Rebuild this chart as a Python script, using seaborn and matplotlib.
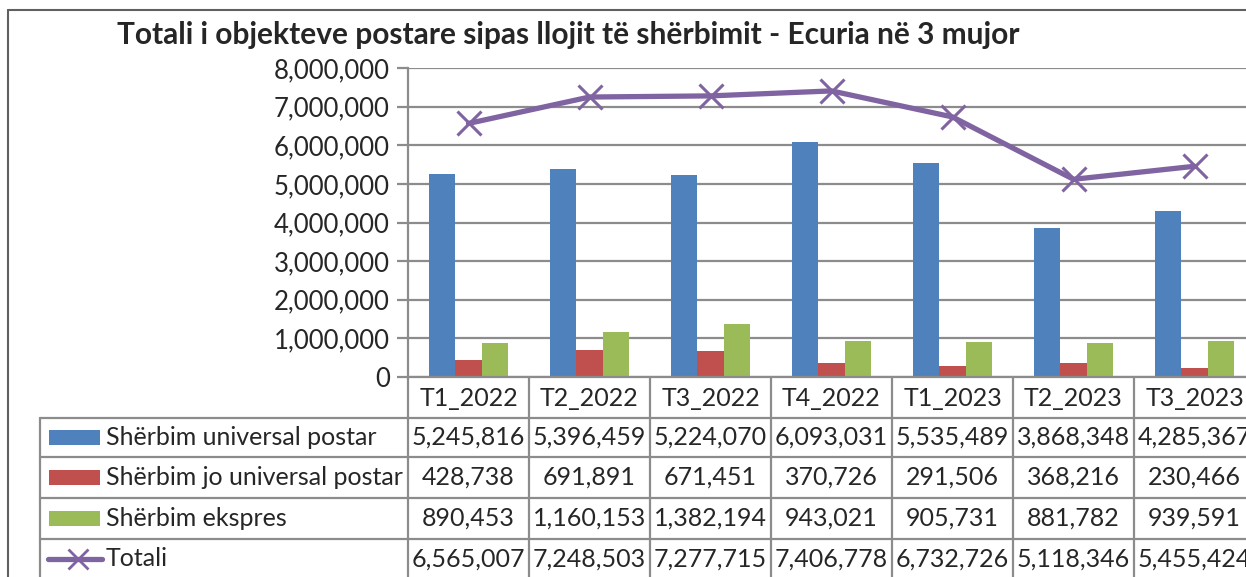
import numpy as np
import pandas as pd
import seaborn as sns
import matplotlib.pyplot as plt
import matplotlib.transforms as mtransforms
from matplotlib.lines import Line2D
from matplotlib.patches import Rectangle

quarters = ["T1_2022", "T2_2022", "T3_2022", "T4_2022", "T1_2023", "T2_2023", "T3_2023"]
universal = [5245816, 5396459, 5224070, 6093031, 5535489, 3868348, 4285367]
jo_universal = [428738, 691891, 671451, 370726, 291506, 368216, 230466]
ekspres = [890453, 1160153, 1382194, 943021, 905731, 881782, 939591]
totali = [6565007, 7248503, 7277715, 7406778, 6732726, 5118346, 5455424]
series_names = ["Shërbim universal postar", "Shërbim jo universal postar", "Shërbim ekspres", "Totali"]
colors = ["#4F81BD", "#C0504D", "#9BBB59", "#8064A2"]

sns.set_style("white")
plt.rcParams["font.family"] = ["Lato", "DejaVu Sans"]
FS = 18
GRID = "#8c8c8c"

df = pd.DataFrame({"period": quarters * 3,
                   "value": universal + jo_universal + ekspres,
                   "series": [series_names[0]] * 7 + [series_names[1]] * 7 + [series_names[2]] * 7})

W, H = 1246, 577
fig = plt.figure(figsize=(W / 100, H / 100), dpi=100)


def fx(x):
    return x / W


def fy(y):
    return 1 - y / H


ax = fig.add_axes([fx(408), fy(377), 7 * 121 / W, (377 - 68) / H])
sns.barplot(data=df, x="period", y="value", hue="series", palette=colors[:3],
            width=0.66, linewidth=0, saturation=1, legend=False, ax=ax)
sns.lineplot(x=np.arange(7), y=totali, color=colors[3], linewidth=3.8, marker="x",
             markersize=17, markeredgewidth=2.2, markeredgecolor=colors[3], ax=ax, zorder=5)
ax.set_xlim(-0.5, 6.5)
ax.set_ylim(0, 8000000)
ax.set_yticks(np.arange(0, 8000001, 1000000))
ax.set_yticklabels([f"{int(v):,}" for v in np.arange(0, 8000001, 1000000)], fontsize=18.5)
ax.set_xticks([])
ax.set_xlabel("")
ax.set_ylabel("")
ax.yaxis.grid(True, color=GRID, linewidth=1.6)
ax.set_axisbelow(True)
for s in ["top", "right"]:
    ax.spines[s].set_visible(False)
for s in ["left", "bottom"]:
    ax.spines[s].set_color(GRID)
    ax.spines[s].set_linewidth(1.6)
ax.tick_params(axis="y", length=8, width=1.6, color=GRID, pad=5, left=True)

fig.text(fx(568), fy(35), "Totali i objekteve postare sipas llojit të shërbimit - Ecuria në 3 mujor",
         ha="center", va="center", fontsize=21.5, fontweight="bold")

# data table under the plot
tr = mtransforms.blended_transform_factory(ax.transData, fig.transFigure)
rows_y = [377, 418, 457, 498, 539, 579]
lw = 1.6
for k in range(8):
    fig.add_artist(Line2D([k - 0.5, k - 0.5], [fy(377), fy(579)], transform=tr,
                          color=GRID, linewidth=lw, clip_on=False))
fig.add_artist(Line2D([fx(40), fx(40)], [fy(418), fy(579)], color=GRID, linewidth=lw))
for y in rows_y[1:5]:
    fig.add_artist(Line2D([fx(40), 1.0], [fy(y), fy(y)], color=GRID, linewidth=lw))

for i, q in enumerate(quarters):
    fig.text(i, fy(398), q, transform=tr, ha="center", va="center", fontsize=FS)

table_rows = [universal, jo_universal, ekspres, totali]
for r, (name, vals) in enumerate(zip(series_names, table_rows)):
    yc = (rows_y[r + 1] + rows_y[r + 2]) / 2
    for i, v in enumerate(vals):
        fig.text(i, fy(yc), f"{v:,}", transform=tr, ha="center", va="center", fontsize=FS)
    fig.text(fx(106), fy(yc), name, ha="left", va="center", fontsize=FS)
    if r < 3:
        fig.add_artist(Rectangle((fx(49), fy(yc + 7.5)), fx(51), 15 / H,
                                 facecolor=colors[r], edgecolor="none"))
    else:
        fig.add_artist(Line2D([fx(48), fx(102)], [fy(yc), fy(yc)], color=colors[3],
                              linewidth=3.8, solid_capstyle="round"))
        fig.add_artist(Line2D([fx(78)], [fy(yc)], color=colors[3], marker="x",
                              markersize=15, markeredgewidth=2))

# outer chart frame (cropped)
fig.add_artist(Line2D([fx(8), fx(8)], [fy(10), 0], color="#606060", linewidth=1.5))
fig.add_artist(Line2D([fx(8), 1.0], [fy(10), fy(10)], color="#606060", linewidth=1.5))

fig.savefig("out.png", dpi=100)
